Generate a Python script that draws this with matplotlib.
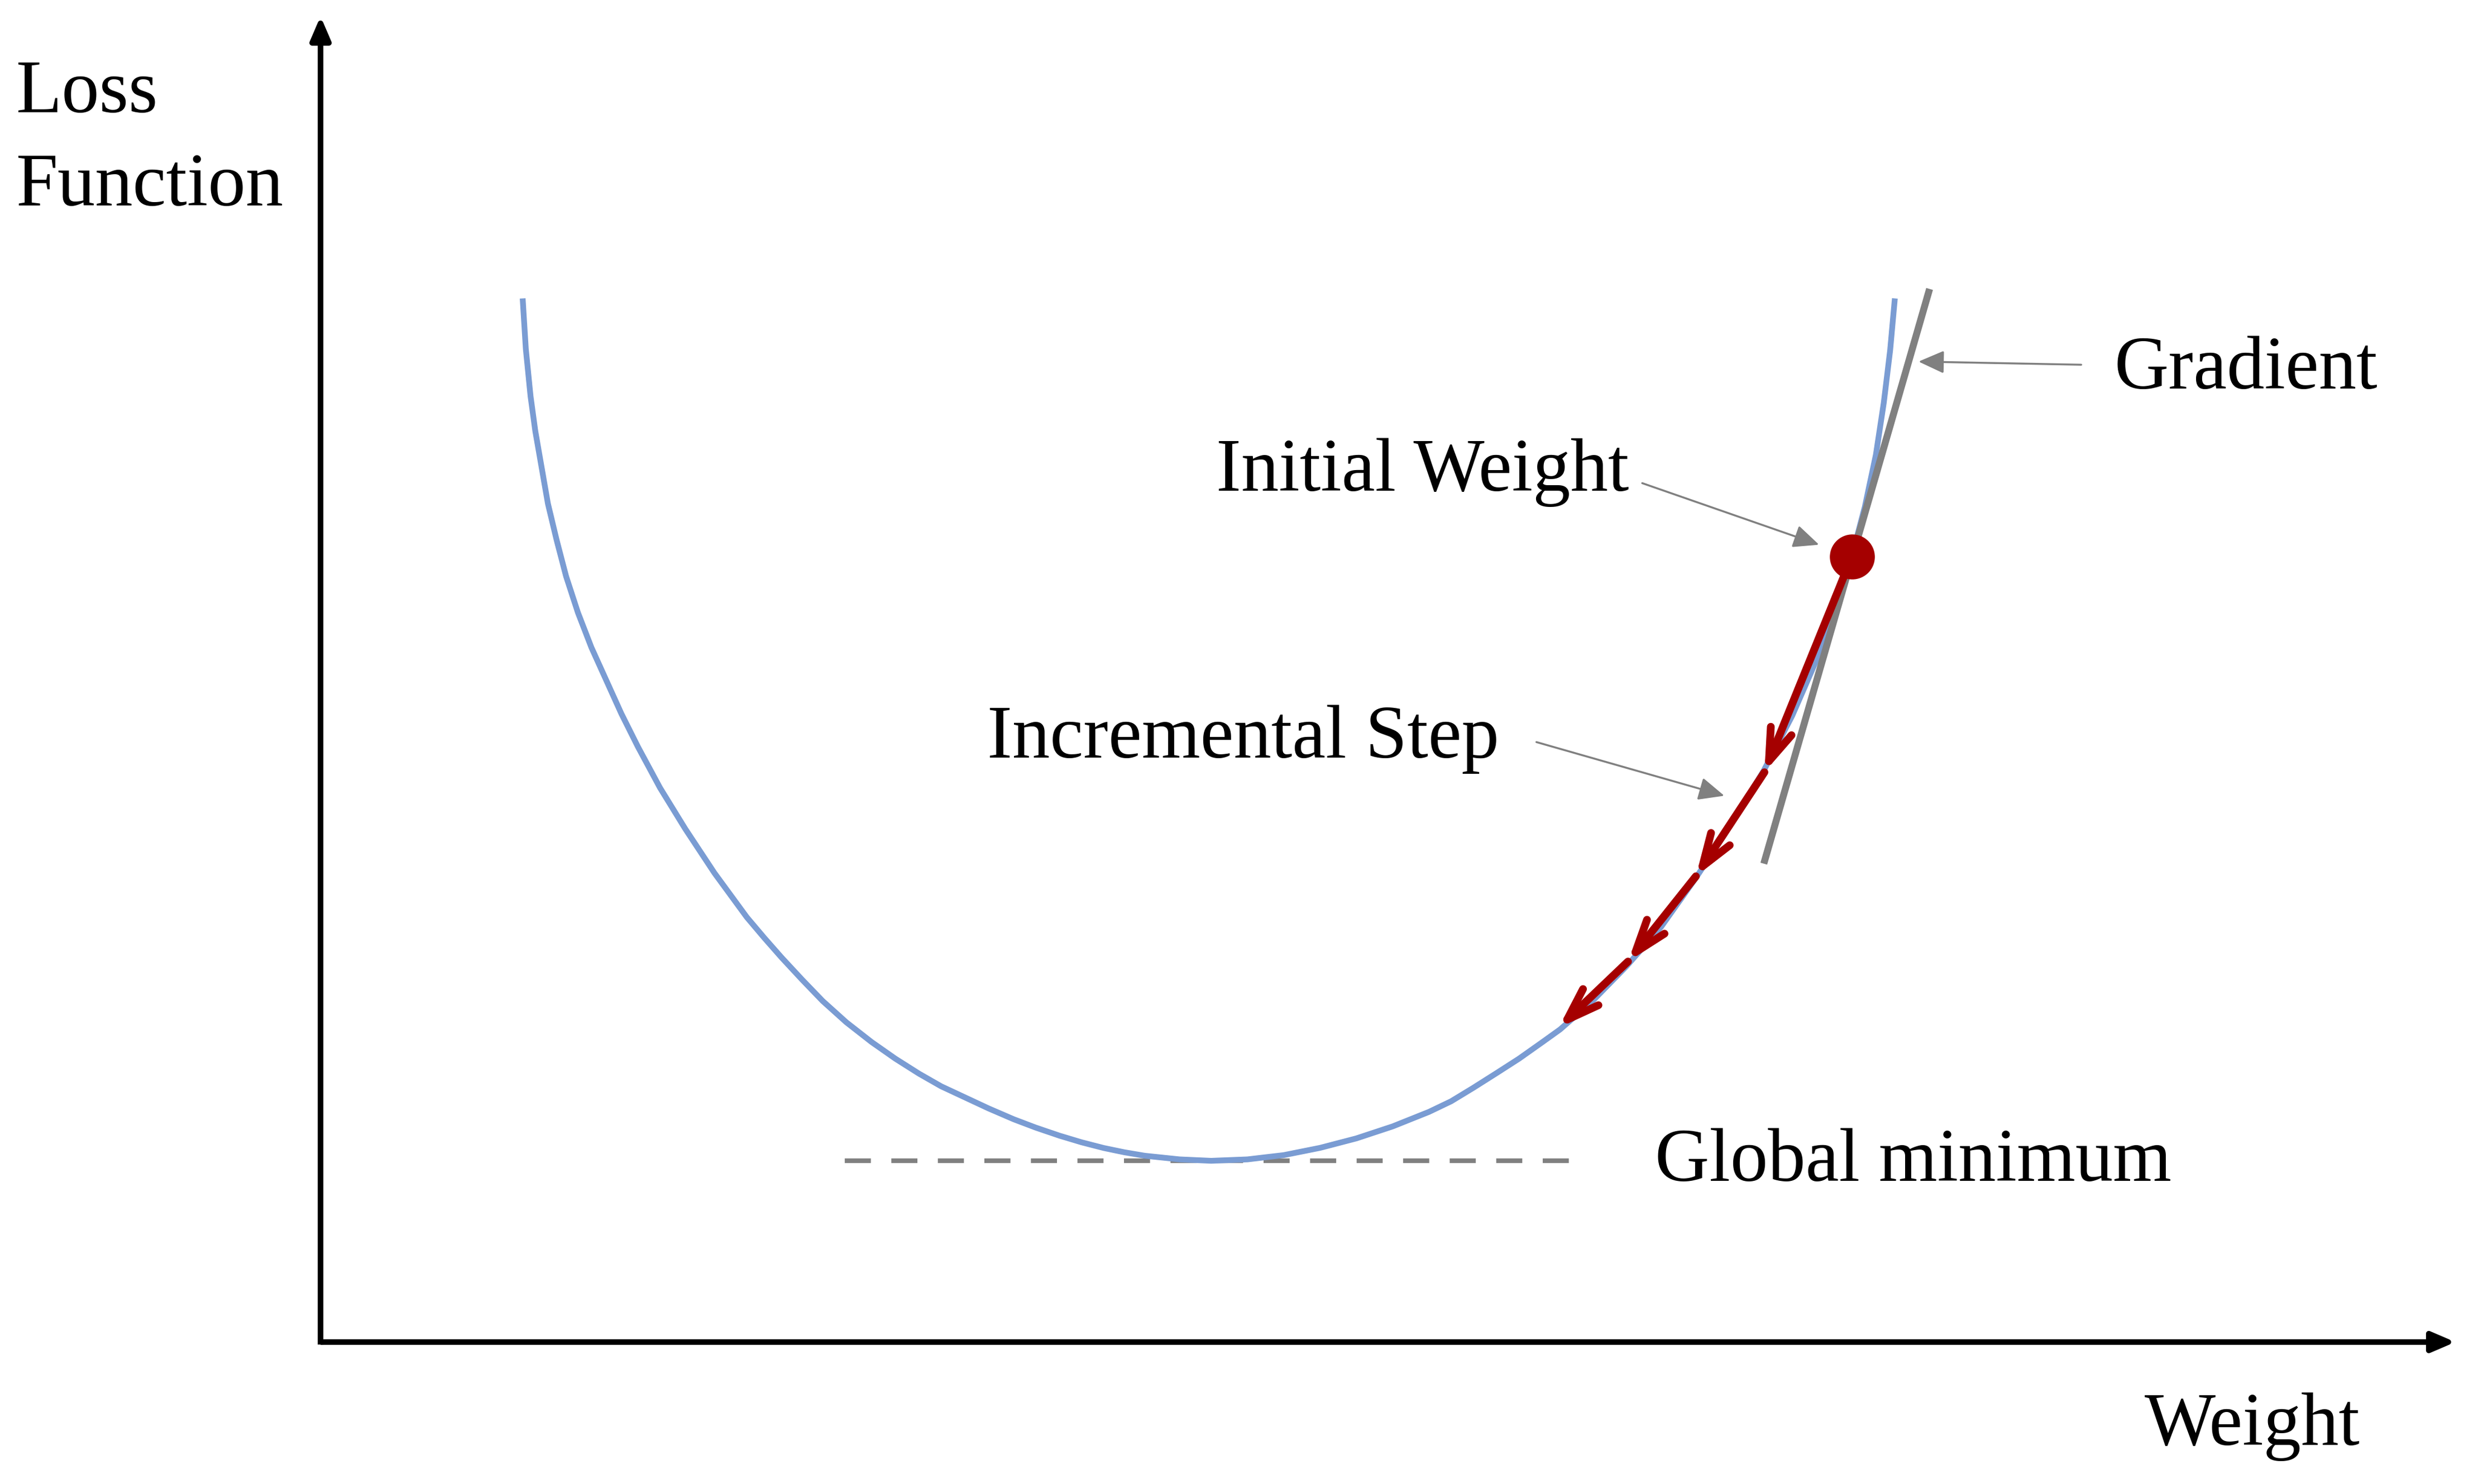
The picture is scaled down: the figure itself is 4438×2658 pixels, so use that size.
import matplotlib
matplotlib.use('Agg')
import matplotlib.pyplot as plt

# values, in (weight, loss) units with the axis corner at 0, 0
curve_weight = [128, 129, 130, 131.5, 133, 136, 140, 144, 149.5, 155.5, 163, 171.5,
                181, 190.5, 201, 215, 231, 249.5, 270, 281, 292, 305, 318, 333, 349,
                364, 379, 393, 408, 423, 439, 453, 468, 482, 496, 509, 522, 544, 564,
                587, 610, 633, 656, 679, 702, 716, 730, 745, 759, 773, 785, 806, 827,
                849, 871, 893, 914, 932, 947, 959, 969.5, 978, 985, 990, 994, 997]
curve_loss = [661, 645, 629, 614, 599, 577, 554, 531, 508, 485, 462, 440,
              419, 398, 377, 351, 325, 297, 269, 256, 243.5, 229.5, 216, 202.5, 190,
              179.5, 170, 162, 155, 148, 141.1, 135.8, 130.7, 126.5, 122.9, 120.2, 118,
              115.7, 114.8,
              115.7, 118.4, 123, 129, 136.6, 145.8, 152.5, 161, 170.5, 179.5, 189.4,
              198, 216.5, 238, 263, 294, 327.5, 362, 396.7, 431.2, 463.6, 496.7, 529,
              562, 595, 628, 661]

# initial weight and the incremental steps down the curve
step_weight = [969.8, 914.4, 871, 828, 784]
step_loss = [497.4, 360.9, 295, 241, 199]

# tangent (gradient) line end points
gradient_weight = [1019, 914]
gradient_loss = [667, 303]

# global minimum dashed line
minimum_weight = [332, 795]
minimum_loss = [115, 115]

axis_top = 839.7
axis_right = 1352

blue = '#7A9CD3'
red = '#A50000'
grey = '#808080'

plt.rcParams['font.family'] = ['Liberation Serif', 'DejaVu Serif']

fig = plt.figure(figsize=(44.38, 26.58), dpi=100)
ax = fig.add_axes([0, 0, 1, 1])
ax.set_xlim(-203, 1366.3)
ax.set_ylim(-89.9, 850)
ax.axis('off')

# axes with arrow heads
axis_arrow = dict(arrowstyle='-|>,head_length=0.84,head_width=0.36', color='black',
                  lw=7.2, mutation_scale=30, shrinkA=0, shrinkB=0, joinstyle='round',
                  capstyle='butt')
ax.annotate('', xy=(0, axis_top), xytext=(0, -1.6), arrowprops=axis_arrow)
ax.annotate('', xy=(axis_right, 0), xytext=(0, 0), arrowprops=axis_arrow)

# loss curve
ax.plot(curve_weight, curve_loss, color=blue, lw=7.4, solid_joinstyle='round',
        solid_capstyle='butt', zorder=2)

# global minimum
ax.plot(minimum_weight, minimum_loss, color=grey, lw=6, dashes=(5.6, 4.4), zorder=1)

# gradient
ax.plot(gradient_weight, gradient_loss, color=grey, lw=9, solid_capstyle='butt', zorder=3)

# steps
for i in range(len(step_weight) - 1):
    ax.annotate('', xy=(step_weight[i + 1], step_loss[i + 1]),
                xytext=(step_weight[i], step_loss[i]),
                arrowprops=dict(arrowstyle='->,head_length=1.05,head_width=0.36',
                                color=red, lw=10, mutation_scale=40,
                                shrinkA=0, shrinkB=0, capstyle='round',
                                joinstyle='round'),
                zorder=4)

ax.plot(step_weight[0], step_loss[0], 'o', ms=58, color=red, mec=red, mew=0, zorder=5)

# labels
fs = 97
ax.text(-193, 779, 'Loss', fontsize=fs, ha='left', va='baseline')
ax.text(-193, 720, 'Function', fontsize=fs, ha='left', va='baseline')
ax.text(1155, -65, 'Weight', fontsize=fs, ha='left', va='baseline')
ax.text(845, 102, 'Global minimum', fontsize=fs, ha='left', va='baseline')

pointer = dict(arrowstyle='-|>,head_length=0.94,head_width=0.42', color=grey,
               lw=2.5, mutation_scale=30, shrinkA=0, shrinkB=0, joinstyle='round')
ax.text(1136, 604, 'Gradient', fontsize=fs, ha='left', va='baseline')
ax.annotate('', xy=(1012, 621), xytext=(1115, 619), arrowprops=pointer)
ax.text(567, 539, 'Initial Weight', fontsize=fs, ha='left', va='baseline')
ax.annotate('', xy=(949, 505), xytext=(837, 544), arrowprops=pointer)
ax.text(422, 370, 'Incremental Step', fontsize=fs, ha='left', va='baseline')
ax.annotate('', xy=(889, 346), xytext=(770, 380), arrowprops=pointer)

fig.savefig('out.png', dpi=100)
